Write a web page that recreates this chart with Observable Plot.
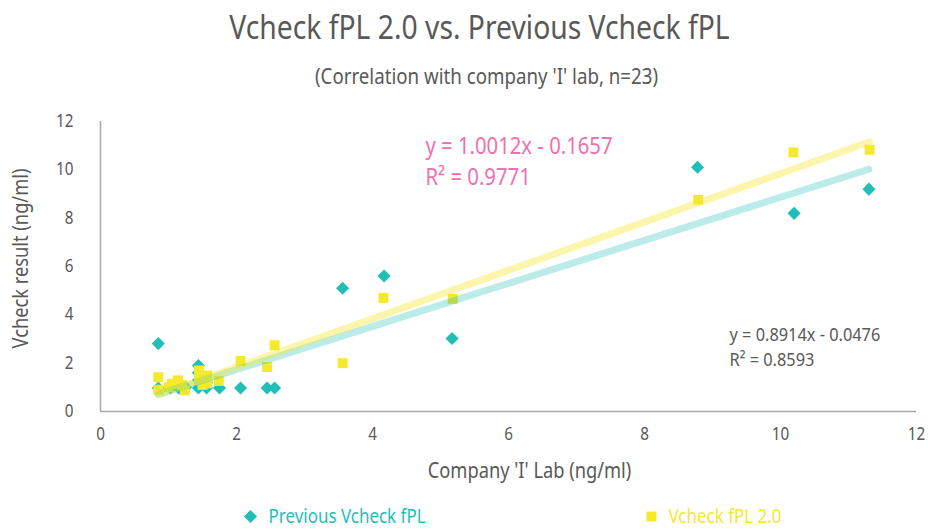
<!DOCTYPE html>
<html>
<head>
<meta charset="utf-8">
<script src="https://cdn.jsdelivr.net/npm/d3@7"></script>
<script src="https://cdn.jsdelivr.net/npm/@observablehq/plot@0.6"></script>
<style>
  html, body { margin: 0; padding: 0; background: #fff; }
</style>
</head>
<body>
<script>
// ---- Data ----
const titleText = "Vcheck fPL 2.0 vs. Previous Vcheck fPL";
const subtitleText = "(Correlation with company 'I' lab, n=23)";
const xLabel = "Company 'I' Lab (ng/ml)";
const yLabel = "Vcheck result (ng/ml)";
const seriesNames = ["Previous Vcheck fPL", "Vcheck fPL 2.0"];

const xTicks = [0, 2, 4, 6, 8, 10, 12];
const yTicks = [0, 2, 4, 6, 8, 10, 12];

// Previous Vcheck fPL (23 samples)
const prevX = [0.85, 0.85, 1.03, 1.15, 1.25, 1.44, 1.44, 1.44, 1.56, 1.56, 1.75, 2.06, 2.45, 2.56, 3.56, 4.17, 5.17, 8.78, 10.20, 11.30, 1.15, 1.50, 1.44];
const prevY = [2.81, 0.97, 0.97, 0.97, 1.00, 1.90, 1.30, 0.97, 0.97, 1.20, 0.97, 0.97, 0.97, 0.97, 5.10, 5.61, 3.02, 10.11, 8.20, 9.20, 1.20, 1.45, 1.60];

// Vcheck fPL 2.0 (23 samples)
const fpl2X = [0.85, 0.85, 1.05, 1.14, 1.24, 1.45, 1.45, 1.57, 1.57, 1.74, 2.06, 2.45, 2.56, 3.56, 4.16, 5.18, 8.79, 10.19, 11.31, 1.45, 1.00, 1.50, 1.20];
const fpl2Y = [1.42, 0.90, 1.15, 1.29, 0.87, 1.70, 1.29, 1.49, 1.16, 1.26, 2.09, 1.84, 2.74, 2.00, 4.70, 4.66, 8.76, 10.72, 10.83, 1.50, 1.00, 1.10, 1.10];

// Linear trendlines [slope, intercept, R²] as printed on the chart
const prevTrend = [0.8914, -0.0476, 0.8593];
const fpl2Trend = [1.0012, -0.1657, 0.9771];

// ---- Styles ----
const teal = "#1fbfb8";
const yellow = "#f4e92c";
const pink = "#ee70b0";
const gray = "#595959";
const axisGray = "#a6a6a6";
const CONDENSE = 0.87;

const prevData = prevX.map((x, i) => ({x, y: prevY[i]}));
const fpl2Data = fpl2X.map((x, i) => ({x, y: fpl2Y[i]}));
const trendData = (xs, [m, b]) => d3.extent(xs).map(x => ({x, y: m * x + b}));
const eqText = ([m, b]) => `y = ${m.toFixed(4)}x ${b < 0 ? "-" : "+"} ${Math.abs(b).toFixed(4)}`;
const r2Text = ([, , r2]) => `R² = ${r2.toFixed(4)}`;

const label = (str, opts) => Plot.text([str], {text: d => d, frameAnchor: "top-left", lineAnchor: "middle", ...opts});

const chart = Plot.plot({
  width: 928,
  height: 529,
  marginLeft: 100,
  marginRight: 12,
  marginTop: 121,
  marginBottom: 118,
  style: {fontFamily: "'Noto Sans', 'DejaVu Sans', sans-serif", color: gray, background: "#fff"},
  x: {domain: [0, 12]},
  y: {domain: [0, 12]},
  marks: [
    Plot.axisX({ticks: xTicks, tickSize: 0, tickPadding: 16, fontSize: 17.5, label: null}),
    Plot.axisY({ticks: yTicks, tickSize: 0, tickPadding: 27, fontSize: 17.5, label: null}),
    Plot.ruleY([0], {stroke: axisGray, strokeWidth: 1.5}),
    Plot.ruleX([0], {stroke: axisGray, strokeWidth: 1.5}),
    Plot.dot(prevData, {x: "x", y: "y", symbol: "diamond2", r: 5.9, fill: teal}),
    Plot.dot(fpl2Data, {x: "x", y: "y", symbol: "square", r: 5.6, fill: yellow}),
    Plot.line(trendData(prevX, prevTrend), {x: "x", y: "y", stroke: teal, strokeOpacity: 0.3, strokeWidth: 7, strokeLinecap: "round"}),
    Plot.line(trendData(fpl2X, fpl2Trend), {x: "x", y: "y", stroke: yellow, strokeOpacity: 0.4, strokeWidth: 7, strokeLinecap: "round"}),
    // titles
    label(titleText, {dx: 379, dy: -92.5, fontSize: 32.5, fill: gray, textAnchor: "middle"}),
    label(subtitleText, {dx: 386, dy: -44, fontSize: 21.5, fill: gray, textAnchor: "middle"}),
    // trendline equations
    label(eqText(fpl2Trend), {dx: 325, dy: 25.5, fontSize: 23.3, fill: pink, textAnchor: "start"}),
    label(r2Text(fpl2Trend), {dx: 325, dy: 56.5, fontSize: 23.3, fill: pink, textAnchor: "start"}),
    label(eqText(prevTrend), {dx: 629, dy: 213.5, fontSize: 18.8, fill: gray, textAnchor: "start"}),
    label(r2Text(prevTrend), {dx: 629, dy: 238, fontSize: 18.8, fill: gray, textAnchor: "start"}),
    // axis titles
    label(xLabel, {dx: 429, dy: 349.5, fontSize: 21, fill: gray, textAnchor: "middle"}),
    label(yLabel, {dx: -79.5, dy: 137, fontSize: 21, fill: gray, textAnchor: "middle", rotate: -90}),
    // legend
    Plot.dot([0], {frameAnchor: "top-left", dx: 150, dy: 395, symbol: "diamond2", r: 5.9, fill: teal}),
    label(seriesNames[0], {dx: 168, dy: 395, fontSize: 19.5, fill: teal, textAnchor: "start"}),
    Plot.dot([0], {frameAnchor: "top-left", dx: 551, dy: 395, symbol: "square", r: 5.6, fill: yellow}),
    label(seriesNames[1], {dx: 568, dy: 395, fontSize: 19.5, fill: yellow, textAnchor: "start"})
  ]
});

document.body.appendChild(chart);

// Condense the type to mimic the narrow face of the original
chart.querySelectorAll("text").forEach(t => {
  const len = t.getComputedTextLength();
  if (len > 0) {
    t.setAttribute("textLength", (len * CONDENSE).toFixed(2));
    t.setAttribute("lengthAdjust", "spacingAndGlyphs");
  }
});
</script>
</body>
</html>
